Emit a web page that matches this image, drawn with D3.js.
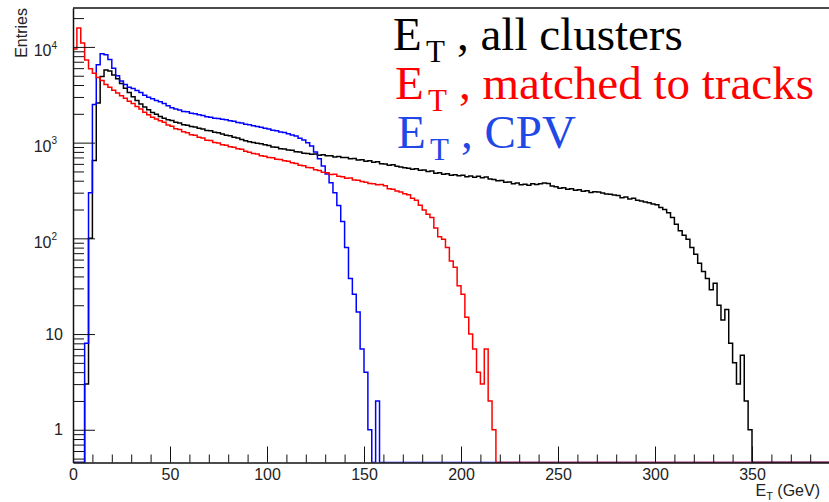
<!DOCTYPE html>
<html>
<head>
<meta charset="utf-8">
<script src="https://cdn.jsdelivr.net/npm/d3@7"></script>
<style>
  body { margin: 0; background: #fff; }
  .ax text { font-family: "Liberation Sans", Arial, sans-serif; font-size: 16px; fill: #222; }
  .ax path { stroke: #111; stroke-width: 1.5; }
  .ax line { stroke: #111; stroke-width: 1; }
  .legend text { font-family: "Liberation Serif", "Times New Roman", serif; }
</style>
</head>
<body>
<div id="chart"></div>
<script>

// histogram contents, 2 GeV bins starting at 0 GeV (bins not listed are empty)
var binWidth = 2;

var allClusters = [
  0, 0, 0, 3, 100, 650, 2600, 4900, 5750, 5600,
  5100, 4650, 4150, 3700, 3330, 3020, 2760, 2540, 2360, 2210,
  2070, 1980, 1870, 1800, 1730, 1700, 1630, 1600, 1540, 1520,
  1470, 1455, 1410, 1390, 1340, 1330, 1280, 1265, 1230, 1195,
  1180, 1140, 1120, 1080, 1045, 1020, 1005, 985, 975, 950,
  935, 900, 895, 865, 860, 835, 830, 805, 800, 775,
  772, 755, 760, 738, 745, 728, 730, 708, 715, 698,
  700, 678, 682, 660, 662, 640, 645, 625, 630, 600,
  598, 580, 588, 565, 555, 545, 540, 528, 535, 515,
  518, 500, 505, 480, 485, 468, 472, 455, 462, 450,
  455, 440, 448, 436, 445, 430, 438, 418, 412, 400,
  402, 385, 388, 372, 378, 362, 368, 358, 372, 366,
  372, 378, 375, 352, 345, 334, 338, 325, 330, 318,
  322, 310, 315, 302, 306, 305, 298, 290, 288, 284,
  280, 266, 270, 258, 262, 250, 246, 240, 236, 228,
  225, 210, 200, 185, 165, 140, 120, 108, 98, 80,
  68, 55, 45, 38, 29, 34, 20, 14, 18, 8,
  5, 3, 6, 2, 1
];

var matchedTracks = [
  9500, 15800, 11000, 7300, 5900, 5300, 4800, 4450, 4050, 3800,
  3520, 3300, 3080, 2900, 2700, 2560, 2380, 2250, 2080, 1960,
  1840, 1770, 1690, 1630, 1530, 1480, 1400, 1370, 1300, 1270,
  1210, 1195, 1140, 1120, 1060, 1050, 1005, 990, 950, 940,
  905, 895, 862, 855, 815, 795, 770, 760, 730, 722,
  700, 695, 672, 668, 645, 640, 615, 605, 580, 572,
  550, 545, 520, 512, 490, 485, 465, 468, 445, 440,
  425, 428, 408, 405, 392, 386, 375, 372, 362, 365,
  355, 330, 325, 312, 305, 292, 285, 262, 250, 222,
  198, 178, 165, 128, 104, 98, 80, 58, 50, 32,
  26, 15, 10, 7, 4, 3, 7, 2, 1
];

var cpv = [
  0, 0, 0, 8, 300, 2500, 6500, 8500, 8300, 7400,
  6000, 5000, 4400, 4050, 3800, 3680, 3500, 3330, 3120, 2980,
  2870, 2760, 2680, 2560, 2430, 2320, 2250, 2190, 2120, 2100,
  2030, 2000, 1950, 1920, 1860, 1840, 1800, 1790, 1750, 1730,
  1690, 1670, 1620, 1600, 1560, 1540, 1500, 1470, 1450, 1410,
  1390, 1350, 1330, 1290, 1275, 1240, 1200, 1170, 1110, 1065,
  1000, 920, 800, 680, 570, 470, 380, 300, 220, 150,
  80, 38, 26, 17, 7, 4, 1, 0, 2
];

var seriesNames = ["all clusters", "matched to tracks", "CPV"];
var seriesColors = ["#000000", "#ff0000", "#0000ff"];
var legendColors = ["#000000", "#ff0000", "#1f48e6"];

var xMajorTicks = [0, 50, 100, 150, 200, 250, 300, 350];
var xMinorTicks = [10, 20, 30, 40, 60, 70, 80, 90, 110, 120, 130, 140, 160, 170, 180, 190,
                   210, 220, 230, 240, 260, 270, 280, 290, 310, 320, 330, 340, 360, 370, 380, 390];
var yMajorTicks = [1, 10, 100, 1000, 10000];
var yMinorTicks = [0.5, 0.6, 0.7, 0.8, 0.9, 2, 3, 4, 5, 6, 7, 8, 9,
                   20, 30, 40, 50, 60, 70, 80, 90, 200, 300, 400, 500, 600, 700, 800, 900,
                   2000, 3000, 4000, 5000, 6000, 7000, 8000, 9000, 20000];

var W = 829, H = 502;
var padL = 73, padT = 8, baseY = 462.5;
var xMax = 400, yMin = 0.455, yMax = 25500;

var svg = d3.select("#chart").append("svg")
    .attr("width", W)
    .attr("height", H);

var x = d3.scaleLinear().domain([0, xMax]).range([padL, padL + 776]);
var y = d3.scaleLog().domain([yMin, yMax]).range([baseY, padT]);

svg.append("clipPath").attr("id", "plot")
  .append("rect")
    .attr("x", padL).attr("y", padT)
    .attr("width", W - padL).attr("height", baseY - padT);

function histPoints(vals) {
    var pts = [[0, yMin]];
    var n = xMax / binWidth;
    for (var i = 0; i < n; i++) {
        var v = vals[i] > 0 ? vals[i] : yMin;
        pts.push([i * binWidth, v]);
    }
    pts.push([xMax, pts[pts.length - 1][1]]);
    return pts;
}

var line = d3.line()
    .curve(d3.curveStepAfter)
    .x(d => x(d[0]))
    .y(d => y(d[1]));

var hists = svg.append("g").attr("clip-path", "url(#plot)");

// drawing order: all clusters, CPV, matched
[[allClusters, 0], [cpv, 2], [matchedTracks, 1]].forEach(function(s) {
    hists.append("path")
        .datum(histPoints(s[0]))
        .attr("fill", "none")
        .attr("stroke", seriesColors[s[1]])
        .attr("stroke-width", 1.5)
        .attr("d", line);
});

// axes
svg.append("g").attr("class", "ax")
    .attr("transform", "translate(0," + baseY + ")")
    .call(d3.axisBottom(x).tickValues(xMajorTicks).tickSize(-16).tickSizeOuter(0).tickPadding(6));
svg.append("g").attr("class", "ax")
    .attr("transform", "translate(0," + baseY + ")")
    .call(d3.axisBottom(x).tickValues(xMinorTicks).tickSize(-8).tickFormat(""))
    .select(".domain").remove();

var yx = svg.append("g").attr("class", "ax")
    .attr("transform", "translate(" + padL + ",0)")
    .call(d3.axisLeft(y).tickValues(yMajorTicks).tickSize(-22).tickSizeOuter(0).tickPadding(10)
        .tickFormat(d => d));
svg.append("g").attr("class", "ax")
    .attr("transform", "translate(" + padL + ",0)")
    .call(d3.axisLeft(y).tickValues(yMinorTicks).tickSize(-11).tickFormat(""))
    .select(".domain").remove();

yx.selectAll(".tick text").each(function(d) {
    if (d < 100) return;
    var t = d3.select(this).text("").attr("x", -16).attr("dy", "0.55em");
    t.append("tspan").text("10");
    t.append("tspan").attr("dy", "-0.75em").attr("font-size", "10px").text(Math.round(Math.log10(d)));
});

// top frame
svg.append("line")
    .attr("x1", padL).attr("x2", W)
    .attr("y1", padT).attr("y2", padT)
    .attr("stroke", "#111").attr("stroke-width", 1.5);

// axis titles
svg.append("text")
    .attr("transform", "translate(27,8) rotate(-90)")
    .attr("text-anchor", "end")
    .style("font-family", "Liberation Sans, Arial, sans-serif")
    .style("font-size", "16px")
    .attr("fill", "#222")
    .text("Entries");

var xt = svg.append("text")
    .attr("x", 820).attr("y", 496)
    .attr("text-anchor", "end")
    .style("font-family", "Liberation Sans, Arial, sans-serif")
    .style("font-size", "16px")
    .attr("fill", "#222");
xt.append("tspan").text("E");
xt.append("tspan").attr("dy", 4).style("font-size", "11px").text("T");
xt.append("tspan").attr("dy", -4).text(" (GeV)");

// legend
var legend = svg.append("g").attr("class", "legend");
var legX = [393, 395, 397];
var legY = [50, 99, 148];
seriesNames.forEach(function(name, i) {
    var t = legend.append("text")
        .attr("y", legY[i])
        .attr("fill", legendColors[i])
        .style("font-size", "47px");
    t.append("tspan").attr("x", legX[i]).text("E");
    t.append("tspan").attr("x", legX[i] + 33).attr("dy", 12).style("font-size", "31px").text("T");
    t.append("tspan").attr("x", legX[i] + 64).attr("dy", -12).text(", " + name);
});

</script>
</body>
</html>
